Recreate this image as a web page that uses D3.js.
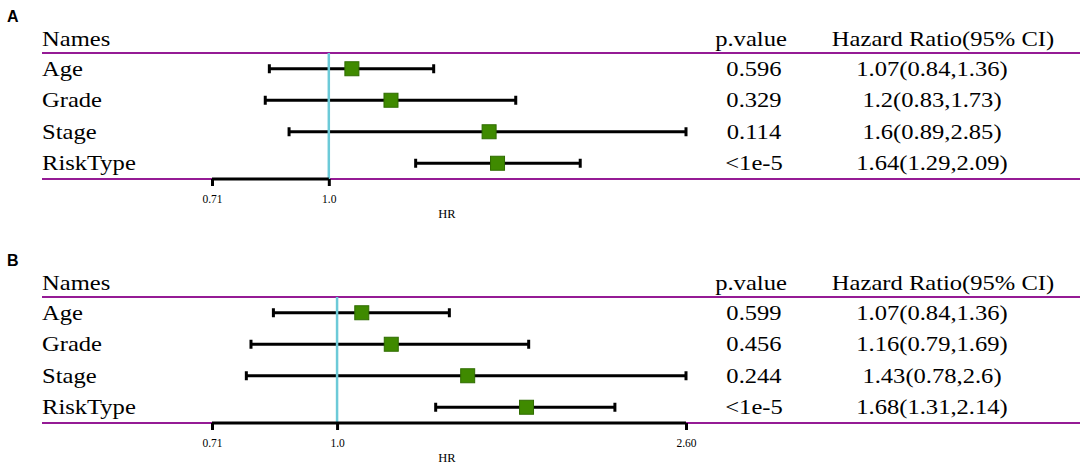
<!DOCTYPE html>
<html>
<head>
<meta charset="utf-8">
<script src="https://cdn.jsdelivr.net/npm/d3@7"></script>
<style>
  body { margin: 0; background: #fff; }
  svg { display: block; }
</style>
</head>
<body>
<div id="chart"></div>
<script>
  const names = ['Age', 'Grade', 'Stage', 'RiskType'];

  // panel A
  const hrA = [1.07, 1.2, 1.6, 1.64];
  const lowerA = [0.84, 0.83, 0.89, 1.29];
  const upperA = [1.36, 1.73, 2.85, 2.09];
  const pvalA = ['0.596', '0.329', '0.114', '<1e-5'];
  const ticksA = [0.71, 1.0];
  const tickLabelsA = ['0.71', '1.0'];

  // panel B
  const hrB = [1.07, 1.16, 1.43, 1.68];
  const lowerB = [0.84, 0.79, 0.78, 1.31];
  const upperB = [1.36, 1.69, 2.6, 2.14];
  const pvalB = ['0.599', '0.456', '0.244', '<1e-5'];
  const ticksB = [0.71, 1.0, 2.60];
  const tickLabelsB = ['0.71', '1.0', '2.60'];

  const width = 1084;
  const height = 467;
  const purple = '#951b95';
  const serif = '"Liberation Serif", "Times New Roman", serif';
  const fs = 21;
  const stretch = 1.17;

  const svg = d3.select('#chart').append('svg')
    .attr('width', width)
    .attr('height', height);

  // serif text, a bit wider than normal like the original
  const label = (g, x, y, txt, anchor) => g.append('text')
    .attr('transform', `translate(${x},${y}) scale(${stretch},1)`)
    .attr('text-anchor', anchor)
    .attr('font-family', serif)
    .attr('font-size', fs)
    .attr('fill', '#000')
    .text(txt);

  const drawPanel = (top, letter, hr, lower, upper, pval, ticks, tickLabels) => {
    const g = svg.append('g');
    const bottom = top + 126;

    const rows = names.map((n, i) => ({name: n, hr: hr[i], lo: lower[i], hi: upper[i], p: pval[i]}));

    const x = d3.scaleLog()
      .domain([0.71, d3.max(upper)])
      .range([212, 686]);

    const y = d3.scaleBand()
      .domain(names)
      .range([top, bottom]);
    const cy = d => y(d.name) + y.bandwidth() / 2;

    g.append('text')
      .attr('x', 7)
      .attr('y', top - 31)
      .attr('font-family', '"Liberation Sans", Arial, sans-serif')
      .attr('font-weight', 'bold')
      .attr('font-size', 16)
      .text(letter);

    // header
    label(g, 42, top - 7, 'Names', 'start');
    label(g, 751, top - 7, 'p.value', 'middle');
    label(g, 943, top - 7, 'Hazard Ratio(95% CI)', 'middle');

    g.selectAll('line.rule')
      .data([top, bottom])
      .join('line')
        .attr('class', 'rule')
        .attr('x1', 42)
        .attr('x2', 1080)
        .attr('y1', d => d)
        .attr('y2', d => d)
        .attr('stroke', purple)
        .attr('stroke-width', 2);

    rows.forEach(d => {
      label(g, 42, cy(d) + 7, d.name, 'start');
      label(g, 754, cy(d) + 7, d.p, 'middle');
      label(g, 932, cy(d) + 7, `${d.hr}(${d.lo},${d.hi})`, 'middle');
    });

    // confidence intervals
    const ci = g.append('g').attr('stroke', '#000').attr('stroke-width', 3);
    ci.selectAll('line.bar')
      .data(rows)
      .join('line')
        .attr('class', 'bar')
        .attr('x1', d => x(d.lo))
        .attr('x2', d => x(d.hi))
        .attr('y1', cy)
        .attr('y2', cy);
    ci.selectAll('line.cap')
      .data(rows.flatMap(d => [{v: d.lo, r: d}, {v: d.hi, r: d}]))
      .join('line')
        .attr('class', 'cap')
        .attr('x1', d => x(d.v))
        .attr('x2', d => x(d.v))
        .attr('y1', d => cy(d.r) - 4.5)
        .attr('y2', d => cy(d.r) + 4.5);

    // reference line at HR = 1
    g.append('line')
      .attr('x1', x(1))
      .attr('x2', x(1))
      .attr('y1', top)
      .attr('y2', bottom)
      .attr('stroke', '#6ccad8')
      .attr('stroke-width', 2.5);

    const box = 14;
    g.selectAll('rect.est')
      .data(rows)
      .join('rect')
        .attr('class', 'est')
        .attr('x', d => x(d.hr) - box / 2)
        .attr('y', d => cy(d) - box / 2)
        .attr('width', box)
        .attr('height', box)
        .attr('fill', '#3f8a00')
        .attr('stroke', '#2f6c00')
        .attr('stroke-width', 1);

    // x axis
    const axis = d3.axisBottom(x)
      .tickValues(ticks)
      .tickFormat((d, i) => tickLabels[i])
      .tickSize(7)
      .tickSizeOuter(0)
      .tickPadding(9);

    const ax = g.append('g')
      .attr('transform', `translate(0,${bottom})`)
      .call(axis);
    ax.select('.domain').remove();
    ax.append('line')
      .attr('x1', x(ticks[0]))
      .attr('x2', x(ticks[ticks.length - 1]))
      .attr('stroke', '#000')
      .attr('stroke-width', 3);
    ax.selectAll('.tick line').attr('stroke', '#000').attr('stroke-width', 3);
    ax.selectAll('.tick text')
      .attr('font-family', serif)
      .attr('font-size', 11.5)
      .attr('fill', '#000');

    g.append('text')
      .attr('x', 447)
      .attr('y', bottom + 39)
      .attr('text-anchor', 'middle')
      .attr('font-family', serif)
      .attr('font-size', 12.5)
      .attr('fill', '#000')
      .text('HR');
  };

  drawPanel(53, 'A', hrA, lowerA, upperA, pvalA, ticksA, tickLabelsA);
  drawPanel(297, 'B', hrB, lowerB, upperB, pvalB, ticksB, tickLabelsB);
</script>
</body>
</html>
